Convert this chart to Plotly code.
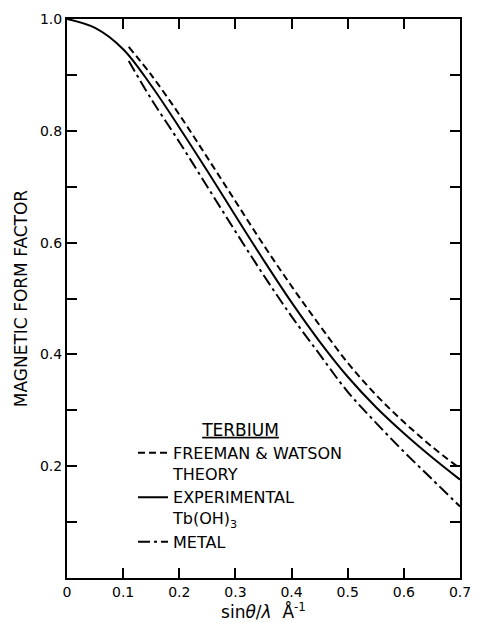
import plotly.graph_objects as go

# Data
x_exp = [0.0, 0.05, 0.10, 0.15, 0.20, 0.25, 0.30, 0.35, 0.40, 0.45, 0.50, 0.55, 0.60, 0.65, 0.70]
f_exp = [1.0, 0.984, 0.946, 0.881, 0.806, 0.728, 0.648, 0.569, 0.493, 0.423, 0.360, 0.306, 0.259, 0.216, 0.176]

x_theory = [0.11, 0.15, 0.20, 0.25, 0.30, 0.35, 0.40, 0.45, 0.50, 0.55, 0.60, 0.65, 0.70]
f_theory = [0.950, 0.900, 0.829, 0.752, 0.674, 0.596, 0.522, 0.452, 0.385, 0.328, 0.279, 0.235, 0.196]

x_metal = [0.11, 0.15, 0.20, 0.25, 0.30, 0.35, 0.40, 0.45, 0.50, 0.55, 0.60, 0.65, 0.70]
f_metal = [0.925, 0.857, 0.780, 0.700, 0.620, 0.542, 0.468, 0.400, 0.333, 0.278, 0.226, 0.177, 0.128]

x_tickvals = [0.0, 0.1, 0.2, 0.3, 0.4, 0.5, 0.6, 0.7]
x_ticktext = ["0", "0.1", "0.2", "0.3", "0.4", "0.5", "0.6", "0.7"]
y_tickvals = [0.2, 0.4, 0.6, 0.8, 1.0]
y_ticktext = ["0.2", "0.4", "0.6", "0.8", "1.0"]
y_minorvals = [0.1, 0.3, 0.5, 0.7, 0.9]

FONT = "DejaVu Sans, Liberation Sans, Arial, sans-serif"

fig = go.Figure()
fig.add_trace(go.Scatter(
    x=x_theory, y=f_theory, mode="lines", line_shape="spline",
    line=dict(color="black", width=2, dash="7px,4px"),
    name="FREEMAN & WATSON<br>THEORY"))
fig.add_trace(go.Scatter(
    x=x_exp, y=f_exp, mode="lines", line_shape="spline",
    line=dict(color="black", width=2),
    name="EXPERIMENTAL<br>Tb(OH)<sub>3</sub>"))
fig.add_trace(go.Scatter(
    x=x_metal, y=f_metal, mode="lines", line_shape="spline",
    line=dict(color="black", width=2, dash="12px,4px,3px,4px"),
    name="METAL"))

axis_common = dict(
    showline=True, linecolor="black", linewidth=2, mirror="ticks",
    ticks="inside", ticklen=10, tickwidth=1.5, tickcolor="black",
    showgrid=False, zeroline=False,
    tickfont=dict(size=14, family=FONT, color="black"),
)

fig.update_xaxes(
    range=[0, 0.7], tickvals=x_tickvals, ticktext=x_ticktext,
    title=dict(text="sin<i>θ</i>/<i>λ</i>  Å<sup>-1</sup>", font=dict(size=17, family=FONT), standoff=1),
    **axis_common)
fig.update_yaxes(
    range=[0, 1.0], tickvals=y_tickvals, ticktext=y_ticktext,
    minor=dict(tickvals=y_minorvals, ticks="inside", ticklen=10, tickwidth=1.5, tickcolor="black", showgrid=False),
    title=dict(text="MAGNETIC FORM FACTOR", font=dict(size=17, family=FONT), standoff=8),
    **axis_common)

fig.update_layout(
    width=481, height=623,
    margin=dict(l=67, r=10, t=19, b=36),
    plot_bgcolor="white", paper_bgcolor="white",
    font=dict(family=FONT, color="black"),
    showlegend=True,
    legend=dict(
        x=0.168, y=0.294, xanchor="left", yanchor="top",
        bgcolor="rgba(0,0,0,0)", borderwidth=0,
        font=dict(size=16, family=FONT, color="black"),
        title=dict(text="<u>TERBIUM</u>", side="top center", font=dict(size=17, family=FONT)),
        valign="top", itemwidth=30,
    ),
)

fig.write_html("out.html")
